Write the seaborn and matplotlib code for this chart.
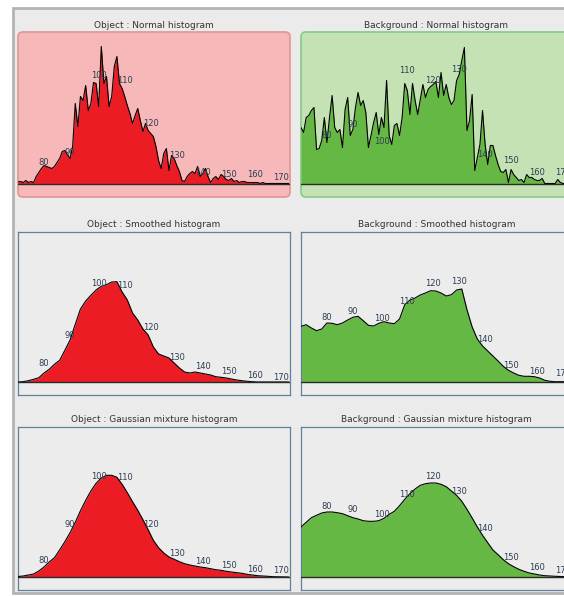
import matplotlib
matplotlib.use("Agg")
import matplotlib.pyplot as plt
import seaborn as sns
from matplotlib.patches import FancyBboxPatch, Rectangle

# ---------------- data ----------------
levels_fine = list(range(72, 177))          # intensity levels, step 1
levels_coarse = list(range(72, 177, 2))     # intensity levels, step 2
label_levels = [80, 90, 100, 110, 120, 130, 140, 150, 160, 170]

obj_normal = [1.5, 2, 1, 3, 1, 2, 1, 7, 11, 15, 18, 17, 16, 15, 17, 21, 25, 32, 33, 29,
              25, 37, 80, 57, 87, 83, 98, 73, 80, 101, 100, 77, 137, 100, 107, 77, 87, 117, 127, 100,
              95, 87, 78, 70, 60, 68, 75, 63, 52, 60, 53, 50, 47, 37, 23, 15, 30, 35, 13, 28,
              25, 18, 12, 3, 2, 7, 10, 12, 10, 17, 7, 10, 15, 7, 1, 5, 7, 4, 9, 7,
              4, 3, 5, 2, 3, 1, 2, 2, 1, 1, 1, 1, 1, 0, 1, 0, 0, 0, 0, 0,
              0, 0, 0, 0, 0]
bg_normal = [56, 51, 66, 68, 73, 76, 34, 35, 43, 66, 41, 66, 88, 56, 51, 54, 36, 74, 86, 48,
             54, 76, 91, 78, 83, 71, 36, 48, 61, 71, 49, 66, 56, 103, 48, 39, 58, 60, 48, 66,
             100, 93, 69, 100, 83, 69, 84, 99, 86, 94, 97, 99, 102, 86, 111, 88, 99, 86, 79, 83,
             103, 109, 123, 136, 53, 63, 89, 13, 26, 39, 73, 39, 19, 38, 38, 28, 19, 12, 11, 14,
             1, 14, 9, 6, 3, 4, 1, 9, 6, 6, 4, 3, 3, 5, 0, 0, 0, 0, 0, 4,
             1, 0, 0, 0, 0]
obj_smooth = [0, 0.3, 1.3, 2.7, 4.3, 9, 12.7, 17.7, 21.7, 31.7, 42, 57.7, 73, 81, 86.7, 92, 95.7, 97.3,
              100, 100.3, 90, 82, 69, 62, 53, 47, 35, 28, 26, 24, 19, 14, 10, 9, 10, 9,
              8, 7, 5.3, 4.7, 4, 3, 2, 1.3, 0.7, 0.3, 0, 0, 0, 0, 0, 0, 0]
bg_smooth = [55.7, 57.3, 54, 51.3, 53, 59, 58.7, 57.3, 59, 62, 64.7, 65.7, 61.3, 56.7, 56, 58.7, 60.3, 59,
             58.3, 63, 77.3, 82, 84, 87, 89, 91.3, 91, 89, 86, 87.3, 92, 93, 72.3, 55, 43, 36,
             31, 26, 21, 15.7, 11.7, 9, 6.7, 5.7, 5.7, 5.3, 4, 1.7, 0.7, 0.3, 0.3, 0.3, 0.3]
obj_gmm = [0.5, 1, 2, 3, 6, 10, 15, 19.3, 27, 35.3, 44.3, 54.7, 66.3, 76.7, 86, 93.7, 99, 101.7,
           101.7, 99.7, 92.7, 84.3, 75.3, 66.7, 57.3, 47.3, 36.7, 29.3, 24, 20, 17.7, 15.3, 13.3, 12, 11, 10,
           9.3, 8.3, 7.3, 6.7, 5.7, 5, 4.3, 3.7, 2.7, 2, 1.3, 1, 0.7, 0.3, 0.2, 0.1, 0]
bg_gmm = [50, 54.7, 59.3, 61.7, 64, 65, 65, 64.3, 63.3, 61.3, 59.3, 58, 56.3, 55.7, 55.7, 56.3, 58.7, 62.7,
          65.7, 71.3, 77.7, 83.3, 88, 91.7, 93.3, 94, 94, 92.7, 90.3, 86, 81.7, 75.7, 67.7, 59, 50, 41.7,
          34.3, 27, 22.3, 17.3, 13.3, 10.3, 7.7, 5.7, 4, 3, 2, 1.3, 1, 0.7, 0.5, 0.3, 0.2]

# heights of the level labels in each panel
lab_obj_normal = [20.7, 30.7, 107.7, 103, 60, 28.3, 11, 9.3, 9.3, 5.7]
lab_bg_normal = [47.7, 59.3, 42, 113.3, 102.7, 113.7, 29.3, 23.3, 11, 11]
lab_obj_smooth = [18.3, 46.7, 99, 97, 54, 25, 15.7, 10, 6.7, 5]
lab_bg_smooth = [64, 70, 63.3, 80, 98, 100.7, 42.3, 16.7, 10.7, 8.3]
lab_obj_gmm = [16.7, 52.7, 100.7, 99.3, 52.7, 23.3, 15.7, 11.7, 7.3, 6.7]
lab_bg_gmm = [70.7, 67.3, 62.7, 82.3, 100.7, 85, 48.3, 20, 9.3, 6.7]

titles = [["Object : Normal histogram", "Background : Normal histogram"],
          ["Object : Smoothed histogram", "Background : Smoothed histogram"],
          ["Object : Gaussian mixture histogram", "Background : Gaussian mixture histogram"]]

# ---------------- figure ----------------
sns.set_style("white")
plt.rcParams["font.family"] = ["DejaVu Sans"]

W, H = 564, 596
fig = plt.figure(figsize=(W / 100, H / 100), dpi=100)
fig.patch.set_facecolor("white")


def fx(px):
    return px / W


def fy(py):
    return 1 - py / H


frame = Rectangle((fx(12.5), fy(593)), fx(575) - fx(12.5), fy(8) - fy(593),
                  transform=fig.transFigure, facecolor="#ebebeb",
                  edgecolor="#b4b4b4", lw=2, zorder=-10)
fig.add_artist(frame)

cols = [(18, 290), (301, 572)]
# top, bottom, baseline, title y
rows = [(32, 197, 183.5, 25), (232, 395, 382, 224.5), (427, 590, 577, 419)]

series = [[(levels_fine, obj_normal, lab_obj_normal), (levels_fine, bg_normal, lab_bg_normal)],
          [(levels_coarse, obj_smooth, lab_obj_smooth), (levels_coarse, bg_smooth, lab_bg_smooth)],
          [(levels_coarse, obj_gmm, lab_obj_gmm), (levels_coarse, bg_gmm, lab_bg_gmm)]]

fills = ["#ec1c24", "#66b845"]
panel_face = ["#f6b8b8", "#c4e2b4"]
panel_edge = ["#e39898", "#8ccc8c"]

for r, (top, bot, base, ty) in enumerate(rows):
    for c, (left, right) in enumerate(cols):
        ax = fig.add_axes([fx(left), fy(bot), fx(right) - fx(left), fy(top) - fy(bot)])
        xs, ys, labs = series[r][c]
        if r == 0:
            ax.patch.set_visible(False)
            for s in ax.spines.values():
                s.set_visible(False)
            rb = FancyBboxPatch((fx(left), fy(bot)), fx(right) - fx(left), fy(top) - fy(bot),
                                boxstyle="round,pad=0,rounding_size=%f" % (5 / W),
                                mutation_aspect=W / H, transform=fig.transFigure,
                                facecolor=panel_face[c], edgecolor=panel_edge[c],
                                lw=1.3, zorder=-5)
            fig.add_artist(rb)
        else:
            ax.set_facecolor("#ececec")
            for s in ax.spines.values():
                s.set_color("#5d8299")
                s.set_linewidth(0.9)
        ax.fill_between(xs, 0, ys, color=fills[c], lw=0, zorder=2)
        sns.lineplot(x=xs, y=ys, ax=ax, color="black", lw=0.8, zorder=3)
        ax.axhline(0, color="#2a2a2a", lw=1.0, zorder=4)
        for lv, lh in zip(label_levels, labs):
            ax.text(lv, lh, str(lv), fontsize=6, color="#2c3e50",
                    ha="left", va="center", zorder=5)
        ax.set_xlim(72, 176.5)
        ax.set_ylim(-(bot - base), base - top)
        ax.set_xticks([])
        ax.set_yticks([])
        ax.set_xlabel("")
        ax.set_ylabel("")
        fig.text(fx((left + right) / 2), fy(ty), titles[r][c], ha="center", va="center",
                 fontsize=6.5, color="#333333")

fig.savefig("out.png", dpi=100, facecolor="white")
